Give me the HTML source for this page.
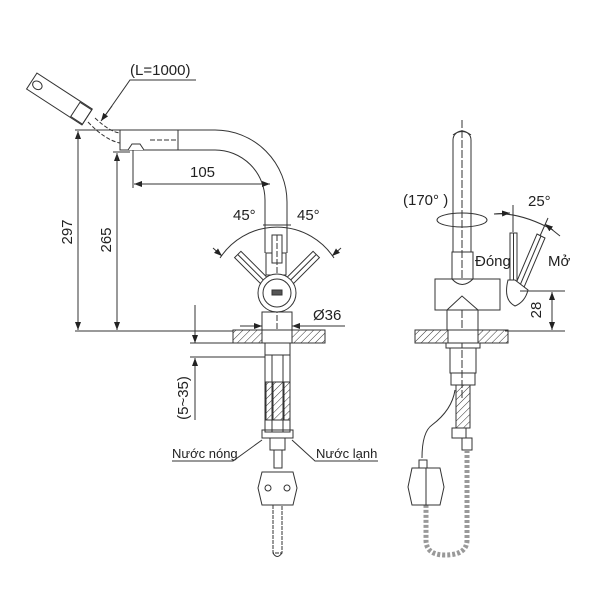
<!DOCTYPE html>
<html><head><meta charset="utf-8"><style>
html,body{margin:0;padding:0;background:#fff}
svg{display:block}
text{font-family:"Liberation Sans","DejaVu Sans",sans-serif;fill:#222}
</style></head><body>
<svg width="600" height="600" viewBox="0 0 600 600" xmlns="http://www.w3.org/2000/svg">
<defs>
<pattern id="h" width="5" height="5" patternUnits="userSpaceOnUse" patternTransform="rotate(45)">
<line x1="0" y1="0" x2="0" y2="5" stroke="#333" stroke-width="1"/></pattern>
<marker id="a" markerWidth="8" markerHeight="6" refX="8" refY="3" orient="auto" markerUnits="userSpaceOnUse">
<path d="M0,0 L8,3 L0,6 z" fill="#222"/></marker>
</defs>
<g fill="none" stroke="#333" stroke-width="1">
<!-- LEFT VIEW -->
<g transform="rotate(33 60 100)">
<rect x="26" y="90" width="66" height="19" fill="#fff"/>
<rect x="78" y="91" width="14" height="17"/>
<ellipse cx="33" cy="100" rx="5" ry="4"/>
</g>
<path d="M88 122 Q105 140 120 143" stroke-dasharray="4 2"/>
<path d="M95 118 Q110 132 120 133" stroke-dasharray="4 2"/>
<rect x="120" y="130" width="58" height="20"/>
<path d="M178 130 H215 A72 72 0 0 1 287 202 V253"/>
<path d="M178 150 H215 A50 50 0 0 1 265 200 V253"/>
<path d="M128 150 L132 144 L140 144 L144 150" fill="#fff"/>
<path d="M150 140 H178" stroke-dasharray="5 2"/>
<rect x="266" y="253" width="20" height="22"/>
<rect x="272" y="235" width="10" height="28" fill="#fff"/>
<line x1="277" y1="235" x2="277" y2="330" stroke-dasharray="6 2"/>
<g transform="rotate(-45 277 293)"><rect x="272" y="238" width="9" height="42" fill="#fff"/><line x1="276.5" y1="238" x2="276.5" y2="280"/></g>
<g transform="rotate(45 277 293)"><rect x="273" y="238" width="9" height="42" fill="#fff"/><line x1="277.5" y1="238" x2="277.5" y2="280"/></g>
<circle cx="277" cy="293" r="19" fill="#fff"/>
<circle cx="277" cy="293" r="14"/>
<rect x="272" y="290" width="10" height="5" fill="#555"/>
<path d="M220 258 A68 68 0 0 1 334 258"/>
<line x1="213" y1="248" x2="222" y2="256" marker-end="url(#a)"/>
<line x1="341" y1="248" x2="332" y2="256" marker-end="url(#a)"/>
<line x1="263" y1="225" x2="291" y2="225"/>
<rect x="262" y="312" width="30" height="18"/>
<rect x="233" y="330" width="92" height="13" fill="url(#h)"/>
<rect x="262" y="330" width="30" height="13" fill="#fff"/>
<rect x="265" y="343" width="25" height="12"/>
<line x1="240" y1="326" x2="262" y2="326" marker-end="url(#a)"/>
<line x1="310" y1="326" x2="292" y2="326" marker-end="url(#a)"/>
<line x1="292" y1="326" x2="345" y2="326"/>
<line x1="75" y1="130" x2="120" y2="130"/>
<line x1="75" y1="331" x2="233" y2="331"/>
<line x1="78" y1="330" x2="78" y2="131" marker-end="url(#a)"/>
<line x1="78" y1="131" x2="78" y2="330" marker-end="url(#a)"/>
<line x1="113" y1="152" x2="130" y2="152"/>
<line x1="117" y1="330" x2="117" y2="153" marker-end="url(#a)"/>
<line x1="117" y1="153" x2="117" y2="330" marker-end="url(#a)"/>
<line x1="133" y1="150" x2="133" y2="188"/>
<line x1="270" y1="184" x2="134" y2="184" marker-end="url(#a)"/>
<line x1="134" y1="184" x2="270" y2="184" marker-end="url(#a)"/>
<path d="M196 80 H130 L102 120"/>
<line x1="112" y1="106" x2="101" y2="121" marker-end="url(#a)"/>
<line x1="190" y1="343" x2="233" y2="343"/>
<line x1="190" y1="357" x2="265" y2="357"/>
<line x1="195" y1="305" x2="195" y2="343" marker-end="url(#a)"/>
<line x1="195" y1="420" x2="195" y2="358" marker-end="url(#a)"/>
<rect x="265" y="355" width="25" height="77"/>
<line x1="272" y1="355" x2="272" y2="432"/><line x1="283" y1="355" x2="283" y2="432"/>
<rect x="266" y="382" width="6" height="38" fill="url(#h)"/>
<rect x="273" y="382" width="10" height="38" fill="url(#h)"/>
<rect x="284" y="382" width="6" height="38" fill="url(#h)"/>
<rect x="262" y="430" width="31" height="8"/>
<rect x="270" y="438" width="15" height="12"/>
<rect x="274" y="450" width="8" height="18"/>
<path d="M262 472 L293 472 L297 488 L293 505 L262 505 L258 488 Z" fill="#fff"/>
<circle cx="268" cy="488" r="3"/><circle cx="287" cy="488" r="3"/>
<rect x="273" y="505" width="9" height="48" stroke-dasharray="4 1"/>
<path d="M273 553 Q277 560 282 553"/>
<path d="M172 461 H233 L262 440"/>
<path d="M378 461 H315 L292 440"/>
<!-- RIGHT VIEW -->
<line x1="462" y1="120" x2="462" y2="400" stroke-dasharray="8 2"/>
<path d="M453 252 V140 A9 9 0 0 1 471 140 V252"/>
<path d="M453 135 Q462 128 471 135"/>
<ellipse cx="462" cy="220" rx="25" ry="7"/>
<rect x="452" y="252" width="21" height="27"/>
<rect x="435" y="279" width="65" height="31" fill="#fff"/>
<path d="M452 279 Q462 290 473 279"/>
<path d="M447 310 L462 296 L478 310"/>
<rect x="447" y="310" width="31" height="20"/>
<rect x="415" y="330" width="93" height="13" fill="url(#h)"/>
<rect x="448" y="330" width="30" height="13" fill="#fff"/>
<rect x="446" y="343" width="34" height="5"/>
<rect x="450" y="348" width="26" height="25"/>
<rect x="451" y="373" width="24" height="12"/>
<rect x="456" y="385" width="14" height="43" fill="url(#h)"/>
<rect x="452" y="428" width="14" height="10"/>
<rect x="462" y="438" width="10" height="12"/>
<path d="M467 450 V540 Q467 555 445 555 Q426 555 426 540 V505" stroke-dasharray="3 2" stroke-width="5" stroke="#999"/>
<path d="M455 390 Q452 410 432 425 Q422 432 422 458"/>
<path d="M412 468 L440 468 L444 487 L440 505 L412 505 L408 487 Z" fill="#fff"/>
<line x1="426" y1="468" x2="426" y2="505"/>
<rect x="419" y="460" width="8" height="8"/>
<rect x="510" y="233" width="7" height="50" fill="#fff"/>
<line x1="513.5" y1="233" x2="513.5" y2="283"/>
<path d="M537 234 L545 238 L522 292 L514 288 Z" fill="#fff"/>
<line x1="541" y1="236" x2="518" y2="290"/>
<path d="M508 280 Q503 300 515 306 Q525 302 528 290 L515 280 Z" fill="#fff"/>
<path d="M494 214 Q520 212 553 230"/>
<line x1="494" y1="214" x2="510" y2="213" marker-end="url(#a)"/>
<line x1="560" y1="236" x2="545" y2="224" marker-end="url(#a)"/>
<line x1="513" y1="205" x2="513" y2="232"/>
<line x1="548" y1="218" x2="540" y2="236"/>
<line x1="520" y1="291" x2="565" y2="291"/>
<line x1="505" y1="331" x2="565" y2="331"/>
<line x1="552" y1="310" x2="552" y2="292" marker-end="url(#a)"/>
<line x1="552" y1="310" x2="552" y2="330" marker-end="url(#a)"/>
</g>
<g font-size="15">
<text x="130" y="75">(L=1000)</text>
<text x="190" y="177">105</text>
<text x="233" y="220">45°</text>
<text x="297" y="220">45°</text>
<text x="313" y="320">Ø36</text>
<text transform="translate(72 232) rotate(-90)" text-anchor="middle">297</text>
<text transform="translate(111 240) rotate(-90)" text-anchor="middle">265</text>
<text transform="translate(188 398) rotate(-90)" text-anchor="middle">(5~35)</text>
<text x="172" y="458" font-size="13">Nước nóng</text>
<text x="316" y="458" font-size="13">Nước lạnh</text>
<text x="403" y="205">(170° )</text>
<text x="528" y="206">25°</text>
<text x="475" y="266">Đóng</text>
<text x="548" y="266">Mở</text>
<text transform="translate(541 310) rotate(-90)" text-anchor="middle">28</text>
</g>
</svg>
</body></html>
